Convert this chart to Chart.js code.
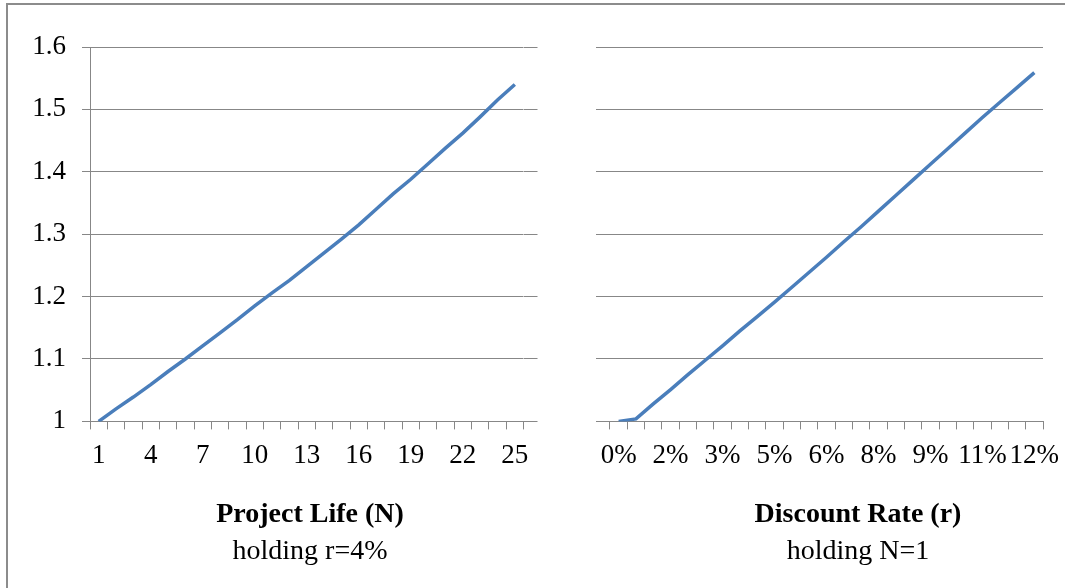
<!DOCTYPE html>
<html>
<head>
<meta charset="utf-8">
<title>Project Life and Discount Rate</title>
<script src="https://cdn.jsdelivr.net/npm/chart.js@4.4.1/dist/chart.umd.min.js"></script>
<style>
  html, body { margin: 0; padding: 0; background: #fff; overflow: hidden; width: 1065px; height: 588px; }
  #frame { position: absolute; left: 6px; top: 3px; right: 0; bottom: 0; border-top: 2px solid #8c8c8c; border-left: 2px solid #8c8c8c; }
  canvas { position: absolute; top: 0; }
  #lifeChart { left: 0; }
  #rateChart { left: 580px; }
</style>
</head>
<body>
<div id="frame"></div>
<canvas id="lifeChart" width="620" height="588"></canvas>
<canvas id="rateChart" width="556" height="588"></canvas>
<script>
// Left panel: project life N (holding r = 4%)
const lifeYears = [1, 2, 3, 4, 5, 6, 7, 8, 9, 10, 11, 12, 13, 14, 15, 16, 17, 18, 19, 20, 21, 22, 23, 24, 25];
const lifeRatio = [1.000, 1.020, 1.039, 1.059, 1.080, 1.100, 1.121, 1.142, 1.163, 1.185, 1.206, 1.226, 1.248,
                   1.270, 1.292, 1.315, 1.340, 1.365, 1.388, 1.413, 1.438, 1.462, 1.488, 1.515, 1.540];

// Right panel: discount rate r in % (holding N = 1)
const rates = [0, 0.5, 1, 1.5, 2, 2.5, 3, 3.5, 4, 4.5, 5, 5.5, 6, 6.5, 7, 7.5, 8, 8.5, 9, 9.5, 10, 10.5, 11, 11.5, 12];
const rateRatio = [1.000, 1.004, 1.028, 1.051, 1.075, 1.098, 1.121, 1.145, 1.168, 1.191, 1.215, 1.239, 1.263,
                   1.288, 1.312, 1.337, 1.362, 1.387, 1.412, 1.437, 1.462, 1.487, 1.511, 1.535, 1.559];

// Y axis range
const yMin = 1;
const yMax = 1.6;
const yStep = 0.1;

const colors = { line: '#4a7ebb', grid: '#878787', text: '#000000' };
const serif = 'Liberation Serif, Times New Roman, serif';
const tickFont = { family: serif, size: 27 };

function buildChart(canvasId, labels, values, opts) {
  return new Chart(document.getElementById(canvasId), {
    type: 'line',
    data: {
      labels,
      datasets: [{
        data: values,
        borderColor: colors.line,
        borderWidth: 3.5,
        pointRadius: 0,
        tension: 0,
        yAxisID: 'y'
      }]
    },
    options: {
      responsive: false,
      animation: false,
      layout: { padding: { top: 47, bottom: 20, left: 0, right: 0 } },
      scales: {
        x: {
          offset: true,
          grid: { display: true, offset: true, drawOnChartArea: false, tickLength: 8, color: colors.grid },
          border: { display: true, color: colors.grid },
          ticks: {
            autoSkip: false,
            maxRotation: 0,
            padding: 10,
            font: tickFont,
            color: colors.text,
            callback: (v, i) => (i % 3 === 0 ? opts.tickLabel(i) : '')
          }
        },
        y: {
          position: 'left',
          min: yMin,
          max: yMax,
          ticks: {
            stepSize: yStep,
            display: opts.showYLabels,
            padding: 16,
            font: tickFont,
            color: colors.text,
            // 1, 1.1, ... 1.6 (no float noise)
            callback: v => String(Math.round(v * 10) / 10)
          },
          grid: { color: colors.grid, tickLength: opts.leftTick },
          border: { display: opts.showYLabels, color: colors.grid },
          afterFit: s => { s.width = opts.leftWidth; }
        },
        y2: {
          position: 'right',
          min: yMin,
          max: yMax,
          ticks: { stepSize: yStep, display: false },
          grid: { display: opts.rightTick > 0, drawOnChartArea: false, tickLength: opts.rightTick, color: colors.grid },
          border: { display: false },
          afterFit: s => { s.width = opts.rightWidth; }
        }
      },
      plugins: {
        legend: { display: false },
        tooltip: { enabled: false },
        title: {
          display: true,
          text: opts.title,
          position: 'bottom',
          weight: 1000,
          color: colors.text,
          font: { family: serif, size: 28, weight: 'bold' },
          padding: { top: 16, bottom: 0 }
        },
        subtitle: {
          display: true,
          text: opts.subtitle,
          position: 'bottom',
          weight: 1500,
          color: colors.text,
          font: { family: serif, size: 28, weight: 'normal' },
          padding: { top: 3, bottom: 0 }
        }
      }
    }
  });
}

const lifeChart = buildChart('lifeChart', lifeYears, lifeRatio, {
  title: 'Project Life (N)',
  subtitle: 'holding r=4%',
  tickLabel: i => String(lifeYears[i]),
  showYLabels: true,
  leftTick: 8,
  leftWidth: 90,
  rightTick: 14,
  rightWidth: 96.5
});

const rateChart = buildChart('rateChart', rates, rateRatio, {
  title: 'Discount Rate (r)',
  subtitle: 'holding N=1',
  tickLabel: i => Math.round(rates[i]) + '%',
  showYLabels: false,
  leftTick: 14,
  leftWidth: 30,
  rightTick: 0,
  rightWidth: 93
});
</script>
</body>
</html>
